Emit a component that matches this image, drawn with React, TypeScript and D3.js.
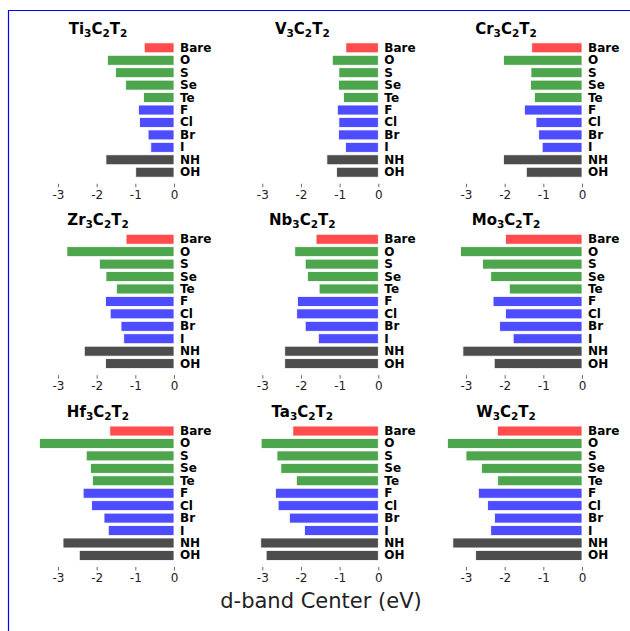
import * as d3 from "d3";
import React, { useEffect, useRef } from "react";

// terminations, top to bottom
const categories = ["Bare", "O", "S", "Se", "Te", "F", "Cl", "Br", "I", "NH", "OH"];
const groups = ["bare", "chal", "chal", "chal", "chal", "hal", "hal", "hal", "hal", "mol", "mol"];

// d-band centre (eV) per MXene
const ti = [-0.77, -1.72, -1.51, -1.25, -0.79, -0.92, -0.89, -0.67, -0.6, -1.76, -0.99];
const v = [-0.84, -1.19, -1.02, -1.03, -0.9, -1.06, -1.02, -1.03, -0.85, -1.33, -1.08];
const cr = [-1.3, -2.03, -1.32, -1.33, -1.23, -1.49, -1.19, -1.12, -1.03, -2.03, -1.44];
const zr = [-1.24, -2.77, -1.93, -1.76, -1.49, -1.77, -1.65, -1.37, -1.3, -2.32, -1.77];
const nb = [-1.61, -2.16, -1.89, -1.83, -1.53, -2.09, -2.11, -1.89, -1.55, -2.42, -2.42];
const mo = [-1.98, -3.14, -2.57, -2.36, -1.88, -2.3, -1.98, -2.13, -1.78, -3.08, -2.27];
const hf = [-1.66, -3.48, -2.27, -2.16, -2.11, -2.35, -2.13, -1.81, -1.7, -2.87, -2.45];
const ta = [-2.21, -3.03, -2.62, -2.52, -2.12, -2.66, -2.59, -2.3, -1.91, -3.04, -2.9];
const w = [-2.19, -3.48, -3.0, -2.6, -2.18, -2.68, -2.44, -2.26, -2.36, -3.34, -2.75];

const metals = ["Ti", "V", "Cr", "Zr", "Nb", "Mo", "Hf", "Ta", "W"];
const series = [ti, v, cr, zr, nb, mo, hf, ta, w];
const xTicks = [-3, -2, -1, 0];

const colors = {
  bare: "rgb(255,77,77)",
  chal: "rgb(77,166,77)",
  hal: "rgb(77,77,255)",
  mol: "rgb(77,77,77)",
};

const width = 630;
const height = 631;
const font = "DejaVu Sans, sans-serif";

const App = () => {
  const ref = useRef(null);

  useEffect(() => {
    const svg = d3.create("svg")
      .attr("width", width)
      .attr("height", height)
      .style("position", "absolute")
      .style("left", "0px")
      .style("top", "0px")
      .style("font-family", font);

    svg.append("rect")
      .attr("width", width)
      .attr("height", height)
      .attr("fill", "white");

    // blue frame (only left and top are visible)
    svg.append("path")
      .attr("d", `M8.5,${height} L8.5,10.5 L${width},10.5`)
      .attr("fill", "none")
      .attr("stroke", "blue")
      .attr("stroke-width", 1.2);

    const colZero = [174, 378.3, 582];
    const rowTop = [41.6, 233, 424.8];
    const step = 12.44;

    series.forEach((vals, i) => {
      const col = i % 3;
      const row = Math.floor(i / 3);
      const x0 = colZero[col];
      const top = rowTop[row];

      const x = d3.scaleLinear().domain([-3, 0]).range([x0 - 116, x0]);
      const y = d3.scaleBand()
        .domain(categories)
        .range([top, top + step * categories.length])
        .paddingInner(0.2)
        .paddingOuter(0.1);

      const g = svg.append("g");

      g.selectAll("rect.bar")
        .data(vals)
        .join("rect")
        .attr("class", "bar")
        .attr("x", d => x(d))
        .attr("y", (d, j) => y(categories[j]))
        .attr("width", d => x(0) - x(d))
        .attr("height", y.bandwidth())
        .attr("fill", (d, j) => colors[groups[j]])
        .attr("stroke", "white")
        .attr("stroke-width", 0.8);

      // category labels right of zero
      g.selectAll("text.cat")
        .data(categories)
        .join("text")
        .attr("class", "cat")
        .attr("x", x0 + 6)
        .attr("y", d => y(d) + y.bandwidth() / 2)
        .attr("dominant-baseline", "central")
        .style("font-size", "12px")
        .style("font-weight", "bold")
        .text(d => d);

      // x axis, ticks only
      const axisY = top + step * categories.length + 5.3;
      const ax = g.append("g")
        .attr("transform", `translate(0,${axisY})`)
        .call(d3.axisBottom(x).tickValues(xTicks).tickSize(3.5).tickPadding(3).tickFormat(d => String(d)));
      ax.select(".domain").remove();
      ax.selectAll("line").attr("stroke", "#444").attr("stroke-width", 0.8);
      ax.selectAll("text")
        .style("font-size", "12px")
        .style("font-family", font)
        .attr("fill", "#222");

      // title with subscripts
      const t = g.append("text")
        .attr("x", x0 - 76)
        .attr("y", top - 8)
        .attr("text-anchor", "middle")
        .style("font-size", "15px")
        .style("font-weight", "bold");
      t.append("tspan").text(metals[i]);
      t.append("tspan").attr("dy", 3).style("font-size", "10.5px").text("3");
      t.append("tspan").attr("dy", -3).text("C");
      t.append("tspan").attr("dy", 3).style("font-size", "10.5px").text("2");
      t.append("tspan").attr("dy", -3).text("T");
      t.append("tspan").attr("dy", 3).style("font-size", "10.5px").text("2");
    });

    svg.append("text")
      .attr("x", 321)
      .attr("y", 608)
      .attr("text-anchor", "middle")
      .style("font-size", "21px")
      .attr("fill", "#222")
      .text("d-band Center (eV)");

    if (ref.current) {
      ref.current.innerHTML = "";
      ref.current.appendChild(svg.node());
    }
  }, []);

  return <div ref={ref}></div>;
};

export default App;
